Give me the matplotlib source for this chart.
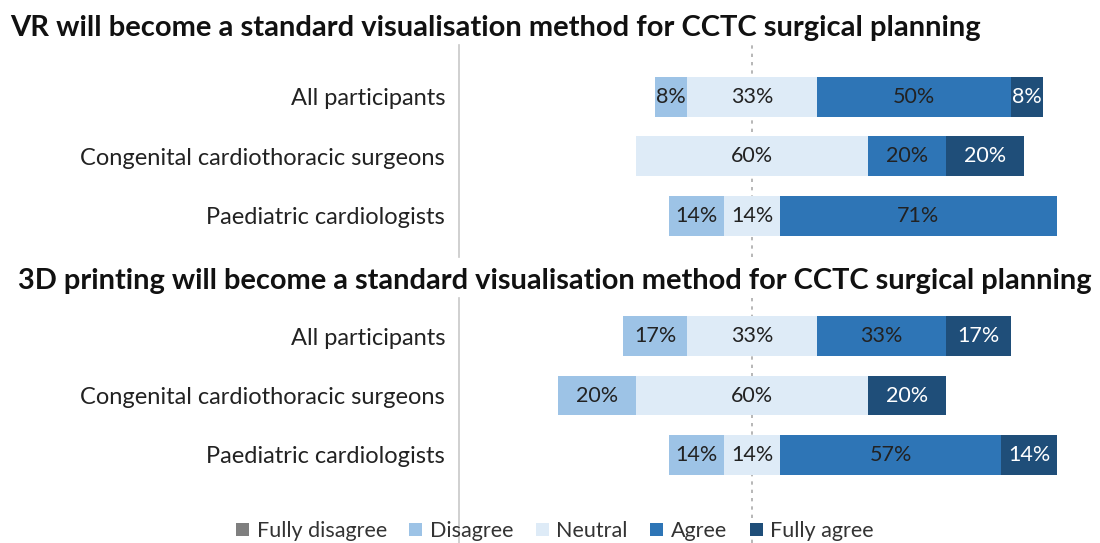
import numpy as np
import matplotlib
matplotlib.use('Agg')
import matplotlib.pyplot as plt
from matplotlib.patches import Patch

plt.rcParams['font.family'] = ['Lato', 'DejaVu Sans']

groups = ['All participants', 'Congenital cardiothoracic surgeons', 'Paediatric cardiologists']
levels = ['Fully disagree', 'Disagree', 'Neutral', 'Agree', 'Fully agree']
colors = ['#7f7f7f', '#9dc3e6', '#deebf7', '#2e75b6', '#1f4e79']
txt_colors = ['white', '#222222', '#222222', '#222222', 'white']

# percentages per group: fully disagree, disagree, neutral, agree, fully agree
vr_fdis = [0.0, 0.0, 0.0]
vr_dis = [8.3, 0.0, 14.3]
vr_neu = [33.3, 60.0, 14.3]
vr_agr = [50.0, 20.0, 71.4]
vr_fagr = [8.3, 20.0, 0.0]

p3d_fdis = [0.0, 0.0, 0.0]
p3d_dis = [16.7, 20.0, 14.3]
p3d_neu = [33.3, 60.0, 14.3]
p3d_agr = [33.3, 0.0, 57.1]
p3d_fagr = [16.7, 20.0, 14.3]

titles = ['VR will become a standard visualisation method for CCTC surgical planning',
          '3D printing will become a standard visualisation method for CCTC surgical planning']

fig = plt.figure(figsize=(11, 5.43), dpi=100)
W, H = 1100, 543

def px_axes(x0, y0, x1, y1):
    return fig.add_axes([x0 / W, 1 - y1 / H, (x1 - x0) / W, (y1 - y0) / H])

# axis from x=459px (spine) to 1100px, center at 752px, 3.88 px per %
xl = (459 - 752) / 3.88
xr = (1100 - 752) / 3.88
ax1 = px_axes(459, 45, 1100, 257)
ax2 = px_axes(459, 298, 1100, 543)

def draw(ax, series, ylim):
    data = np.array(series)  # levels x groups
    y = np.arange(len(groups))
    left = -(data[0] + data[1] + data[2] / 2)
    for i in range(len(levels)):
        w = data[i]
        ax.barh(y, w, left=left, height=0.67, color=colors[i], edgecolor='none')
        for j in range(len(groups)):
            if w[j] > 0:
                ax.text(left[j] + w[j] / 2, y[j], f'{w[j]:.0f}%', ha='center', va='center',
                        fontsize=15.5, color=txt_colors[i])
        left = left + w
    ax.axvline(0, color='#aaaaaa', ls=(0, (2, 3)), lw=1.2, zorder=0)
    ax.set_xlim(xl, xr)
    ax.set_ylim(ylim)
    ax.set_yticks(y)
    ax.set_yticklabels(groups, fontsize=17, color='#222222')
    ax.tick_params(axis='y', length=0, pad=10)
    ax.set_xticks([])
    for s in ['top', 'right', 'bottom']:
        ax.spines[s].set_visible(False)
    ax.spines['left'].set_color('#c8c8c8')
    ax.spines['left'].set_linewidth(1.2)

draw(ax1, [vr_fdis, vr_dis, vr_neu, vr_agr, vr_fagr], (2.69, -0.87))
draw(ax2, [p3d_fdis, p3d_dis, p3d_neu, p3d_agr, p3d_fagr], (3.48, -0.64))

fig.text(10 / W, 1 - 28 / H, titles[0], ha='left', va='center', fontsize=21, fontweight='bold', color='#111111')
fig.text(18 / W, 1 - 281 / H, titles[1], ha='left', va='center', fontsize=20.9, fontweight='bold', color='#111111')

handles = [Patch(facecolor=c, edgecolor='none') for c in colors]
fig.legend(handles, levels, loc='center', bbox_to_anchor=(555 / W, 1 - 531 / H), ncol=5, frameon=False,
           fontsize=15.5, handlelength=0.6, handleheight=0.6, handletextpad=0.35, columnspacing=1.05,
           labelcolor='#333333')

fig.savefig('out.png', dpi=100)
